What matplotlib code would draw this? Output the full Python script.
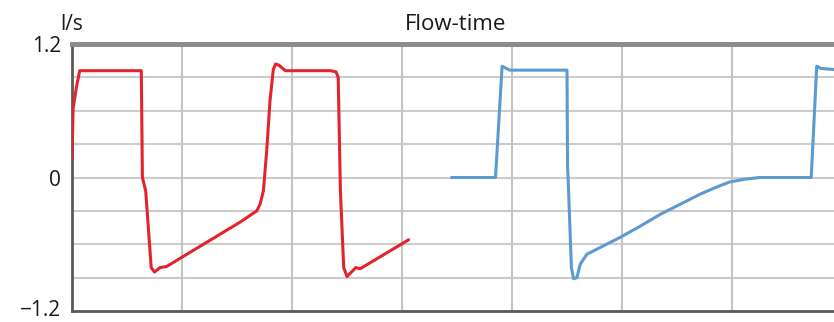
import matplotlib
matplotlib.use('Agg')
import matplotlib.pyplot as plt
import matplotlib.transforms as mtransforms
import numpy as np

plt.rcParams['font.family'] = ['Open Sans', 'DejaVu Sans']

# red trace (time in grid units, flow in l/s)
red_t = [0.0, 0.01, 0.04, 0.07, 0.63, 0.64, 0.67, 0.72, 0.75, 0.80, 0.86, 1.53, 1.68,
         1.71, 1.74, 1.77, 1.80, 1.83, 1.85, 1.88, 1.94, 2.35, 2.40, 2.42, 2.44, 2.47,
         2.50, 2.54, 2.58, 2.62, 3.06]
red_v = [0.18, 0.62, 0.81, 0.96, 0.96, 0.0, -0.12, -0.81, -0.85, -0.81, -0.80, -0.40, -0.30,
         -0.24, -0.12, 0.24, 0.69, 0.97, 1.02, 1.01, 0.96, 0.96, 0.95, 0.90, -0.12, -0.81,
         -0.89, -0.85, -0.81, -0.82, -0.56]

# blue trace
blue_t = [3.45, 3.85, 3.91, 3.95, 3.98, 4.50, 4.505, 4.51, 4.54, 4.56, 4.59, 4.62, 4.68,
          4.98, 5.17, 5.35, 5.53, 5.71, 5.85, 5.98, 6.12, 6.25, 6.72, 6.74, 6.77, 6.81, 7.0]
blue_v = [0.0, 0.0, 1.0, 0.98, 0.965, 0.965, 0.09, 0.0, -0.81, -0.91, -0.90, -0.78, -0.69,
          -0.54, -0.435, -0.33, -0.24, -0.15, -0.09, -0.04, -0.015, 0.0, 0.0, 0.39, 1.0, 0.98, 0.965]

ytick_vals = [-1.2, 0, 1.2]
ytick_labels = ['\u22121.2', '0', '1.2']
ygrid_vals = [-0.9, -0.6, -0.3, 0, 0.3, 0.6, 0.9]
xgrid_vals = [1, 2, 3, 4, 5, 6]

W, H = 834, 322
fig = plt.figure(figsize=(W / 100, H / 100), dpi=100)
ax = fig.add_axes([72 / W, (H - 311) / H, 1 - 72 / W, (311 - 44) / H])

for y in ygrid_vals:
    ax.axhline(y, color='#cccccc', lw=1.5, zorder=1)
for x in xgrid_vals:
    ax.axvline(x, color='#c4c4c4', lw=1.5, zorder=1)

ax.plot(red_t, red_v, color='#e3242d', lw=2.2, solid_joinstyle='round', solid_capstyle='round', zorder=3)
ax.plot(blue_t, blue_v, color='#5b9bd1', lw=2.2, solid_joinstyle='round', solid_capstyle='round', zorder=3)

ax.set_xlim(0, (W - 72) / 110)
ax.set_ylim(-1.2, 1.2)
ax.set_xticks([])
ax.set_yticks(ytick_vals)
ax.set_yticklabels(ytick_labels, fontsize=15, color='#1a1a1a')
ax.tick_params(axis='y', length=0, pad=8)

# nudge the bottom label up a little so it stays inside the figure
lbl = ax.get_yticklabels()[0]
lbl.set_transform(lbl.get_transform() + mtransforms.ScaledTranslation(0, 3 / 100, fig.dpi_scale_trans))

ax.spines['right'].set_visible(False)
ax.spines['top'].set_color('#8c8c8c')
ax.spines['top'].set_linewidth(3.6)
ax.spines['left'].set_color('#5a5a5a')
ax.spines['left'].set_linewidth(2.0)
ax.spines['bottom'].set_color('#5a5a5a')
ax.spines['bottom'].set_linewidth(2.0)

fig.text(60 / W, 1 - 30 / H, 'l/s', fontsize=15, color='#1a1a1a', ha='left', va='baseline')
fig.text(456 / W, 1 - 30 / H, 'Flow-time', fontsize=16, color='#1a1a1a', ha='center', va='baseline')

fig.savefig('out.png', dpi=100)
